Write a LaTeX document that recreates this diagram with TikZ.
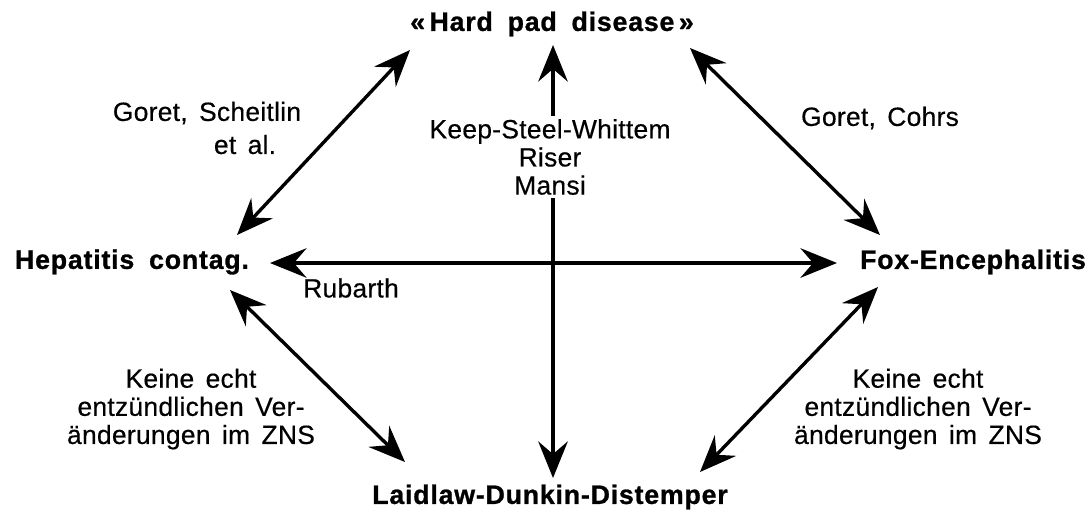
\documentclass[tikz,border=0pt]{standalone}
\usepackage{fontspec}
\setmainfont[LetterSpace=1, WordSpace=1.5, FakeBold=0.4]{Liberation Sans}
\newfontfamily\termfont[LetterSpace=3, WordSpace=1.8, BoldFeatures={FakeBold=1}]{Liberation Sans}
\usetikzlibrary{arrows.meta}

\begin{document}
\begin{tikzpicture}[x=0.025cm, y=-0.025cm,
  term/.style={font=\termfont\fontsize{19}{22}\selectfont\bfseries, inner sep=0pt},
  lbl/.style={font=\fontsize{18.8}{20}\selectfont, align=center, inner sep=0pt},
  arr/.style={{Stealth[length=26pt, width=21pt, inset=9pt]}-{Stealth[length=26pt, width=21pt, inset=9pt]}, line width=2.4pt}
]
  \useasboundingbox (0,0) rectangle (1091,515);

  \node[term] (hard) at (552,24)  {«\,Hard pad disease\,»};
  \node[term] (hep)  at (132,262) {Hepatitis contag.};
  \node[term] (fox)  at (973,262) {Fox-Encephalitis};
  \node[term] (laid) at (550,497) {Laidlaw-Dunkin-Distemper};

  % arrow ends
  \coordinate (hep-n) at (237,235);
  \coordinate (hard-w) at (410,50);
  \coordinate (hard-e) at (690,48);
  \coordinate (fox-n) at (880,235);
  \coordinate (hep-s) at (230,290);
  \coordinate (laid-w) at (405,462);
  \coordinate (fox-s) at (878,287);
  \coordinate (laid-e) at (700,472);
  \coordinate (hard-s) at (553,45);
  \coordinate (laid-n) at (553,478);
  \coordinate (hep-e) at (270,263);
  \coordinate (fox-w) at (837,263);

  \draw[arr] (hep-n) -- (hard-w);
  \draw[arr] (hard-e) -- (fox-n);
  \draw[arr] (hep-s) -- (laid-w);
  \draw[arr] (fox-s) -- (laid-e);
  \draw[arr] (hard-s) -- (laid-n);
  \draw[arr] (hep-e) -- (fox-w);

  \node[lbl, font=\fontsize{18.8}{23.5}\selectfont] (goret1) at (207,128) {Goret, Scheitlin\\\hspace*{1.9cm}et al.};
  \node[lbl] (goret2) at (880,118) {Goret, Cohrs};
  \node[lbl, fill=white, inner sep=2pt] (keep) at (550,157) {Keep-Steel-Whittem\\Riser\\Mansi};
  \node[lbl] (rub) at (351,288) {Rubarth};
  \node[lbl] (keine1) at (191,409) {Keine echt\\entzündlichen Ver-\\änderungen im ZNS};
  \node[lbl] (keine2) at (918,409) {Keine echt\\entzündlichen Ver-\\änderungen im ZNS};
\end{tikzpicture}
\end{document}
